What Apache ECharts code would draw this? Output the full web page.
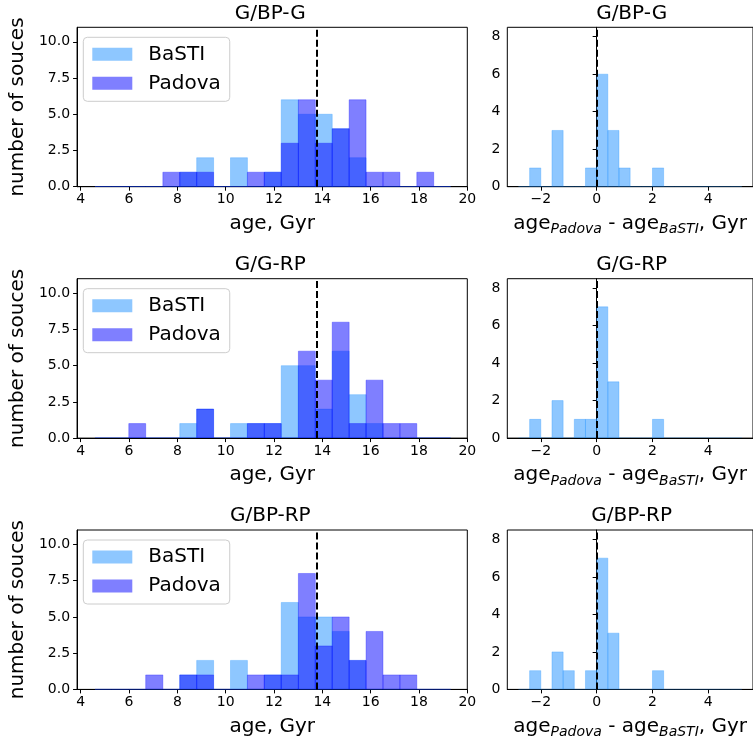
<!DOCTYPE html>
<html>
<head>
<meta charset="utf-8">
<title>age histograms</title>
<script src="https://cdn.jsdelivr.net/npm/echarts@6/dist/echarts.min.js"></script>
<style>
    html, body { margin: 0; padding: 0; background: #fff; }
    #chart { width: 753px; height: 742px; }
</style>
</head>
<body>
<div id="chart"></div>
<script>
    // bin edges (same bins in all three rows)
    const ageEdges = [4.59, 5.29, 5.99, 6.69, 7.40, 8.10, 8.80, 9.50, 10.20, 10.90, 11.60,
        12.30, 13.01, 13.71, 14.41, 15.11, 15.81, 16.51, 17.21, 17.91, 18.61, 19.31]
    const diffEdges = [-2.8, -2.4, -2.0, -1.6, -1.2, -0.8, -0.4, 0, 0.4, 0.8, 1.2,
        1.6, 2.0, 2.4, 2.8, 3.2, 3.6, 4.0, 4.4, 4.8, 5.2]

    const panelTitles = ['G/BP-G', 'G/G-RP', 'G/BP-RP']

    // counts per age bin
    const bastiBpG = [0, 0, 0, 0, 0, 1, 2, 0, 2, 0, 1, 6, 5, 5, 4, 2, 0, 0, 0, 0, 0]
    const padovaBpG = [0, 0, 0, 0, 1, 1, 1, 0, 0, 1, 1, 3, 6, 3, 4, 6, 1, 1, 0, 1, 0]
    const bastiGRp = [0, 0, 0, 0, 0, 1, 2, 0, 1, 1, 1, 5, 5, 2, 6, 3, 1, 0, 0, 0, 0]
    const padovaGRp = [0, 0, 1, 0, 0, 0, 2, 0, 0, 1, 1, 0, 6, 4, 8, 1, 4, 1, 1, 0, 0]
    const bastiBpRp = [0, 0, 0, 0, 0, 1, 2, 0, 2, 0, 1, 6, 5, 5, 4, 2, 0, 0, 0, 0, 0]
    const padovaBpRp = [0, 0, 0, 1, 0, 1, 1, 0, 0, 1, 1, 1, 8, 3, 5, 2, 4, 1, 1, 0, 0]

    // counts per age-difference bin (Padova - BaSTI)
    const diffBpG = [0, 1, 0, 3, 0, 0, 1, 6, 3, 1, 0, 0, 1, 0, 0, 0, 0, 0, 0, 0]
    const diffGRp = [0, 1, 0, 2, 0, 1, 1, 7, 3, 0, 0, 0, 1, 0, 0, 0, 0, 0, 0, 0]
    const diffBpRp = [0, 1, 0, 2, 1, 0, 1, 7, 3, 0, 0, 0, 1, 0, 0, 0, 0, 0, 0, 0]

    // tick labels
    const ageTicks = [4, 6, 8, 10, 12, 14, 16, 18, 20]
    const countTicks = [0, 2.5, 5, 7.5, 10]
    const diffTicks = [-2, 0, 2, 4]
    const diffCountTicks = [0, 2, 4, 6, 8]

    const universeAge = 13.77

    const bastiRows = [bastiBpG, bastiGRp, bastiBpRp]
    const padovaRows = [padovaBpG, padovaGRp, padovaBpRp]
    const diffRows = [diffBpG, diffGRp, diffBpRp]

    const FONT = 'DejaVu Sans'
    const BASTI_COLOR = 'rgba(30,144,255,0.5)'
    const PADOVA_COLOR = 'rgba(0,0,255,0.5)'

    // layout (px)
    const rowTops = [27.3, 278.7, 530]
    const plotH = 159.4
    const leftX = 73.3, leftW = 394
    const rightX = 507.3

    const toBins = (edges, counts) => counts.map((n, i) => [edges[i], edges[i + 1], n])

    function histRect(params, api) {
        let top = api.coord([api.value(0), api.value(2)]),
            bot = api.coord([api.value(1), 0])
        let c = api.visual('color')
        return {
            type: 'rect',
            shape: {x: top[0], y: top[1], width: bot[0] - top[0], height: bot[1] - top[1]},
            style: {fill: c, stroke: c, lineWidth: 0.6}
        }
    }

    const minusFmt = v => (v < 0 ? '\u2212' + Math.abs(v) : String(v))

    function xAxisBase(gridIndex, min, max, ticks) {
        return {
            gridIndex, type: 'value', min, max,
            axisLine: {show: true, onZero: false, lineStyle: {color: '#000', width: 1}},
            axisTick: {show: true, customValues: ticks, length: 4, lineStyle: {color: '#000'}},
            axisLabel: {customValues: ticks, fontSize: 14, color: '#000', fontFamily: FONT, margin: 6, formatter: minusFmt},
            splitLine: {show: false},
            nameLocation: 'middle',
        }
    }

    function yAxisBase(gridIndex, max, ticks, fmt) {
        return {
            gridIndex, type: 'value', min: 0, max,
            axisLine: {show: true, lineStyle: {color: '#000', width: 1}},
            axisTick: {show: true, customValues: ticks, length: 4, lineStyle: {color: '#000'}},
            axisLabel: {customValues: ticks, fontSize: 14, color: '#000', fontFamily: FONT, margin: 7, formatter: fmt},
            splitLine: {show: false}
        }
    }

    const dashed = x => ({
        silent: true, symbol: 'none', animation: false,
        label: {show: false},
        lineStyle: {color: '#000', type: [7, 3], width: 2},
        data: [{xAxis: x}]
    })

    let grid = [], xAxis = [], yAxis = [], series = [], legend = [], graphic = []

    rowTops.forEach((top, r) => {
        let gl = r * 2, gr = r * 2 + 1
        grid.push({left: leftX, top, width: leftW, height: plotH, show: true, borderColor: '#000', borderWidth: 1})
        grid.push({left: rightX, top, right: -3, height: plotH, show: true, borderColor: '#000', borderWidth: 1})

        xAxis.push(Object.assign(xAxisBase(gl, 3.85, 20, ageTicks), {
            name: 'age, Gyr', nameGap: 27,
            nameTextStyle: {fontSize: 20, color: '#000', fontFamily: FONT}
        }))
        xAxis.push(Object.assign(xAxisBase(gr, -3.2, 5.6, diffTicks), {
            name: '{n|age}{s|Padova}{n| - age}{s|BaSTI}{n|, Gyr}', nameGap: 24,
            nameTextStyle: {
                rich: {
                    n: {fontSize: 20, lineHeight: 26, color: '#000', fontFamily: FONT},
                    s: {fontSize: 14, lineHeight: 14, fontStyle: 'italic', color: '#000', fontFamily: FONT, verticalAlign: 'bottom'}
                }
            }
        }))

        yAxis.push(Object.assign(yAxisBase(gl, 11, countTicks, v => v.toFixed(1)), {
            name: 'number of souces', nameLocation: 'middle', nameGap: 42, nameRotate: 90,
            nameTextStyle: {fontSize: 20, color: '#000', fontFamily: FONT}
        }))
        yAxis.push(yAxisBase(gr, 8.5, diffCountTicks, v => String(v)))

        series.push({
            type: 'custom', name: 'BaSTI', xAxisIndex: gl, yAxisIndex: gl,
            renderItem: histRect, data: toBins(ageEdges, bastiRows[r]),
            encode: {x: [0, 1], y: 2}, itemStyle: {color: BASTI_COLOR}, silent: true, clip: true
        })
        series.push({
            type: 'custom', name: 'Padova', xAxisIndex: gl, yAxisIndex: gl,
            renderItem: histRect, data: toBins(ageEdges, padovaRows[r]),
            encode: {x: [0, 1], y: 2}, itemStyle: {color: PADOVA_COLOR}, silent: true, clip: true,
            markLine: dashed(universeAge)
        })
        series.push({
            type: 'custom', name: 'diff', xAxisIndex: gr, yAxisIndex: gr,
            renderItem: histRect, data: toBins(diffEdges, diffRows[r]),
            encode: {x: [0, 1], y: 2}, itemStyle: {color: BASTI_COLOR}, silent: true, clip: true,
            markLine: dashed(0)
        })

        legend.push({
            data: ['BaSTI', 'Padova'], orient: 'vertical',
            left: 83.3, top: top + 10,
            icon: 'rect', itemWidth: 40, itemHeight: 13, itemGap: 9,
            padding: [7, 9, 8, 9],
            backgroundColor: 'rgba(255,255,255,0.8)', borderColor: '#cccccc', borderWidth: 1, borderRadius: 4,
            selectedMode: false,
            textStyle: {fontSize: 20, lineHeight: 20, color: '#000', fontFamily: FONT, padding: [0, 0, 0, 11]}
        })

        // panel titles
        graphic.push({
            type: 'text', x: leftX + leftW / 2, y: top - 14,
            style: {text: panelTitles[r], fontSize: 20, fontFamily: FONT, fill: '#000', textAlign: 'center', textVerticalAlign: 'middle'}
        })
        graphic.push({
            type: 'text', x: (rightX + 756) / 2, y: top - 14,
            style: {text: panelTitles[r], fontSize: 20, fontFamily: FONT, fill: '#000', textAlign: 'center', textVerticalAlign: 'middle'}
        })
    })

    let chart = echarts.init(document.getElementById('chart'))
    chart.setOption({
        animation: false,
        textStyle: {fontFamily: FONT},
        grid, xAxis, yAxis, series, legend, graphic
    })
</script>
</body>
</html>
